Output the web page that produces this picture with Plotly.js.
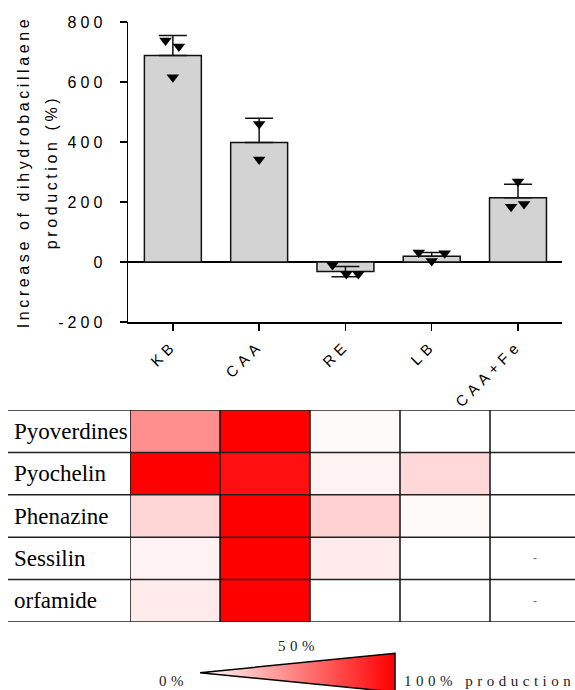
<!DOCTYPE html>
<html>
<head>
<meta charset="utf-8">
<script src="https://cdn.plot.ly/plotly-3.0.1.min.js"></script>
<style>html,body{margin:0;padding:0;background:#fff;}#chart{width:575px;height:690px;}</style>
</head>
<body>
<div id="chart"></div>
<script>
// ---- Bar chart data ----
const categories = ['KB', 'CAA', 'RE', 'LB', 'CAA+Fe'];
const barMeans = [688, 398, -32, 19, 214];
const errUp = [67, 81, 17, 13, 45];
const errDown = [0, 0, 17, 0, 0];
// individual replicate points
const pointCat = [0, 0, 0, 1, 1, 2, 2, 2, 3, 3, 3, 4, 4, 4];
const pointJitter = [-0.085, 0.07, 0, 0, 0, -0.15, 0.01, 0.15, -0.15, 0.15, 0, 0, -0.08, 0.07];
const pointValues = [738, 718, 616, 460, 342, -10, -40, -40, 32, 29, 3, 268, 184, 193];
const yTickVals = [-200, 0, 200, 400, 600, 800];
const yTickText = ['-200', '0', '200', '400', '600', '800'];
const yTitle = 'Increase of dihydrobacillaene<br>production (%)';

// ---- Heatmap data (production %, white = 0, red = 100) ----
const compounds = ['Pyoverdines', 'Pyochelin', 'Phenazine', 'Sessilin', 'orfamide'];
const production = [
  [44, 100, 2, 0, 0],
  [100, 94, 5, 15, 0],
  [16, 100, 18, 2, 0],
  [5, 100, 8, 0, null],
  [8, 100, 0, 0, null]
];

// ---- Colour-scale legend ----
const legendLabels = ['0%', '50%', '100% production'];

const W = 575, H = 690;
const px = v => v / W;
const py = v => 1 - v / H;
const idx = categories.map((c, i) => i);

const traces = [];
traces.push({
  type: 'bar', x: idx, y: barMeans, width: 0.66,
  marker: {color: '#d3d3d3', line: {color: '#111', width: 1.5}},
  error_y: {type: 'data', symmetric: false, array: errUp, arrayminus: errDown,
            color: '#111', thickness: 1.5, width: 14},
  hoverinfo: 'skip', xaxis: 'x', yaxis: 'y'
});
traces.push({
  type: 'scatter', mode: 'markers',
  x: pointCat.map((c, i) => c + pointJitter[i]), y: pointValues,
  marker: {symbol: 'triangle-down', size: 11, color: '#000'},
  cliponaxis: false, hoverinfo: 'skip', xaxis: 'x', yaxis: 'y'
});
traces.push({
  type: 'heatmap', z: production,
  x: categories.map((c, i) => i), y: compounds.map((c, i) => i),
  colorscale: [[0, '#ffffff'], [1, '#ff0000']], zmin: 0, zmax: 100,
  showscale: false, hoverinfo: 'skip', xaxis: 'x2', yaxis: 'y2'
});
// gradient triangle legend
traces.push({
  type: 'scatter', mode: 'lines', x: [200, 395, 395, 200], y: [672.7, 653.3, 692, 672.7],
  fill: 'toself',
  fillgradient: {type: 'horizontal', colorscale: [[0, '#ffffff'], [1, '#ff0000']]},
  line: {color: '#000', width: 1.5}, hoverinfo: 'skip', xaxis: 'x3', yaxis: 'y3'
});

const shapes = [];
for (let i = 0; i <= compounds.length; i++) {
  shapes.push({type: 'line', xref: 'paper', yref: 'y2', x0: px(8), x1: 1, y0: i - 0.5, y1: i - 0.5,
               line: {color: '#222', width: 1.5}, layer: 'above'});
}
for (let j = 0; j < categories.length; j++) {
  shapes.push({type: 'line', xref: 'x2', yref: 'y2', x0: j - 0.5, x1: j - 0.5, y0: -0.5, y1: compounds.length - 0.5,
               line: {color: '#111', width: 1.5}, layer: 'above'});
}

const annotations = [];
compounds.forEach((c, i) => {
  annotations.push({xref: 'paper', yref: 'y2', x: px(12), y: i, text: c, showarrow: false,
    xanchor: 'left', yanchor: 'middle', font: {family: 'Liberation Serif, Times New Roman, serif', size: 23, color: '#000'}});
});
production.forEach((row, i) => row.forEach((v, j) => {
  if (v === null) annotations.push({xref: 'x2', yref: 'y2', x: j, y: i, text: '-', showarrow: false,
    font: {family: 'Liberation Sans, Arial', size: 12, color: '#666'}});
}));
const legendStart = annotations.length;
const legendPos = [[157, 681], [276, 646], [402, 681]];
legendLabels.forEach((t, k) => {
  annotations.push({xref: 'paper', yref: 'paper', x: px(legendPos[k][0]), y: py(legendPos[k][1]), text: t,
    showarrow: false, xanchor: 'left', yanchor: 'middle', align: 'left',
    font: {family: 'Liberation Serif, Times New Roman, serif', size: 15, color: '#222'}});
});

const layout = {
  width: W, height: H, margin: {l: 0, r: 0, t: 0, b: 0},
  paper_bgcolor: '#fff', plot_bgcolor: 'rgba(0,0,0,0)', showlegend: false,
  font: {family: 'Liberation Sans, Arial, sans-serif', size: 15, color: '#000'},
  xaxis: {domain: [px(128), px(562)], range: [-0.52, 4.51], anchor: 'y',
    tickvals: idx, ticktext: categories, tickangle: -45,
    showline: true, linecolor: '#000', linewidth: 1.5, ticks: 'outside', ticklen: 7, tickwidth: 1.5, tickcolor: '#000',
    showgrid: false, zeroline: false, fixedrange: true, tickfont: {size: 15}},
  yaxis: {domain: [py(322), py(22)], range: [-200, 800], tickvals: yTickVals, ticktext: yTickText, anchor: 'x',
    showline: true, linecolor: '#000', linewidth: 1.5, ticks: 'outside', ticklen: 7, tickwidth: 1.5, tickcolor: '#000',
    ticklabelstandoff: 10,
    showgrid: false, zeroline: true, zerolinecolor: '#000', zerolinewidth: 1.5,
    title: {text: yTitle, font: {size: 16}, standoff: 20}, fixedrange: true, tickfont: {size: 16}},
  xaxis2: {domain: [px(130), 1], range: [-0.5, -0.5 + 445 / 90], anchor: 'y2', visible: false, fixedrange: true},
  yaxis2: {domain: [py(622), py(410)], range: [compounds.length - 0.5, -0.5], anchor: 'x2', visible: false, fixedrange: true},
  xaxis3: {domain: [0, 1], range: [0, W], anchor: 'y3', visible: false, fixedrange: true},
  yaxis3: {domain: [0, py(640)], range: [H, 640], anchor: 'x3', visible: false, fixedrange: true},
  shapes: shapes, annotations: annotations
};

function applyStyles() {
  const gd = document.getElementById('chart');
  gd.querySelectorAll('.ytick text').forEach(t => t.style.letterSpacing = '4px');
  gd.querySelectorAll('.xtick text').forEach(t => t.style.letterSpacing = '5px');
  gd.querySelectorAll('.g-ytitle text').forEach(t => {
    t.style.letterSpacing = '3.6px';
    t.querySelectorAll('tspan.line').forEach((s, k) => { if (k > 0) s.setAttribute('dy', '1.75em'); });
  });
  gd.querySelectorAll('.annotation').forEach(a => {
    const i = +a.getAttribute('data-index');
    if (i >= legendStart) a.querySelectorAll('text').forEach(t => t.style.letterSpacing = '4.5px');
  });
}

Plotly.newPlot('chart', traces, layout, {displayModeBar: false, staticPlot: true}).then(gd => {
  applyStyles();
  gd.on('plotly_afterplot', applyStyles);
});
</script>
</body>
</html>
